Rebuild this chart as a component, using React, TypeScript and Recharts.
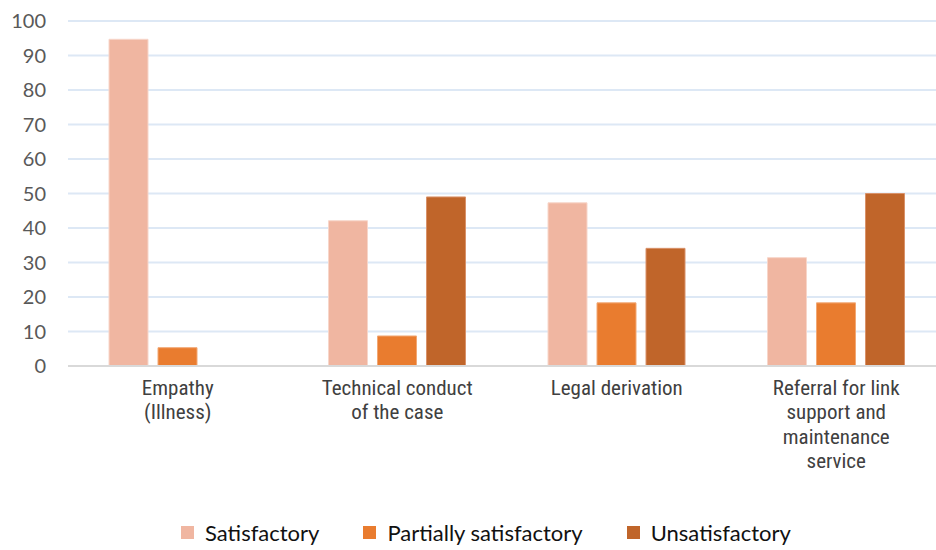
import React from 'react';
import { BarChart, Bar, XAxis, YAxis, CartesianGrid } from 'recharts';

// categories, one entry per line of the axis label
const categoryLines = [
  ['Empathy', '(Illness)'],
  ['Technical conduct', 'of the case'],
  ['Legal derivation'],
  ['Referral for link', 'support and', 'maintenance', 'service'],
];

const satisfactory = [94.7, 42.1, 47.3, 31.4];
const partiallySatisfactory = [5.3, 8.7, 18.3, 18.3];
const unsatisfactory = [0, 49.0, 34.1, 50.0];

const yTicks = [0, 10, 20, 30, 40, 50, 60, 70, 80, 90, 100];

const series = [
  { key: 'satisfactory', name: 'Satisfactory', color: '#f0b6a1', stroke: '#f7d6ca' },
  { key: 'partial', name: 'Partially satisfactory', color: '#e97c2f', stroke: '#f2a874' },
  { key: 'unsatisfactory', name: 'Unsatisfactory', color: '#c0652a', stroke: '#d9926a' },
];

const data = categoryLines.map((lines, i) => ({
  category: lines.join(' '),
  satisfactory: satisfactory[i],
  partial: partiallySatisfactory[i],
  unsatisfactory: unsatisfactory[i],
}));

function CategoryTick(props: any) {
  const { x, y, payload } = props;
  const idx = data.findIndex(d => d.category === payload.value);
  const lines = idx >= 0 ? categoryLines[idx] : [payload.value];
  return (
    <text
      x={x}
      y={y}
      textAnchor="middle"
      fill="#404040"
      fontSize={21}
      fontFamily="'Liberation Sans Narrow', 'Roboto Condensed', 'Liberation Sans', Arial, sans-serif"
    >
      {lines.map((line, i) => (
        <tspan key={i} x={x} dy={i === 0 ? 20.5 : 24.5}>
          {line}
        </tspan>
      ))}
    </text>
  );
}

export default function App() {
  return (
    <div
      style={{
        position: 'absolute',
        left: 0,
        top: 0,
        width: 936,
        height: 550,
        overflow: 'hidden',
        background: '#fff',
      }}
    >
      <BarChart
        width={960}
        height={550}
        data={data}
        margin={{ top: 21, right: 14, left: 0, bottom: 0 }}
        barSize={39}
        barGap={10}
      >
        <CartesianGrid vertical={false} stroke="#dde8f5" strokeWidth={2} />
        <XAxis
          dataKey="category"
          height={184}
          interval={0}
          tickLine={false}
          axisLine={{ stroke: '#d9d9d9', strokeWidth: 2 }}
          tick={<CategoryTick />}
        />
        <YAxis
          width={68}
          domain={[0, 100]}
          ticks={yTicks}
          axisLine={false}
          tickLine={false}
          tickMargin={16}
          tick={{ fill: '#595959', fontSize: 20, fontFamily: 'Lato, sans-serif' }}
        />
        {series.map(s => (
          <Bar
            key={s.key}
            dataKey={s.key}
            name={s.name}
            fill={s.color}
            stroke={s.stroke}
            strokeWidth={1}
            isAnimationActive={false}
          />
        ))}
      </BarChart>
      <div
        style={{
          position: 'absolute',
          top: 519,
          left: 0,
          width: 972,
          display: 'flex',
          justifyContent: 'center',
          gap: 44,
          fontFamily: 'Lato, sans-serif',
          fontSize: 22,
          color: '#111',
          whiteSpace: 'nowrap',
        }}
      >
        {series.map(s => (
          <div key={s.key} style={{ display: 'flex', alignItems: 'center' }}>
            <span
              style={{
                display: 'inline-block',
                width: 13,
                height: 13,
                background: s.color,
                marginRight: 11,
              }}
            />
            <span>{s.name}</span>
          </div>
        ))}
      </div>
    </div>
  );
}
